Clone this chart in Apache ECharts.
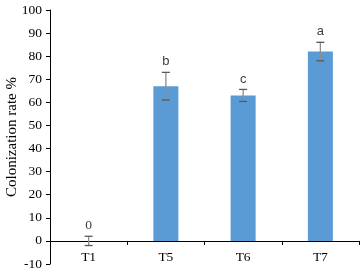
<!DOCTYPE html>
<html><head><meta charset="utf-8">
<script src="https://cdn.jsdelivr.net/npm/echarts@6/dist/echarts.min.js"></script>
<style>html,body{margin:0;padding:0;background:#fff}#c{width:360px;height:274px}</style>
</head><body><div id="c"></div>
<script>
var categories = ["T1", "T5", "T6", "T7"];
var values = [0, 67, 63, 82];
var errors = [2, 6, 2.6, 4];
var letters = ["0", "b", "c", "a"];
var yTicks = [-10, 100, 10];

var chart = echarts.init(document.getElementById('c'));
var serif = '"Liberation Serif", "DejaVu Serif", serif';
var plotH = 274 - 10 - 10;
var zeroOffset = plotH * (0 - yTicks[0]) / (yTicks[1] - yTicks[0]);
chart.setOption({
  animation: false,
  grid: {left: 50, right: 1, top: 10, bottom: 10, containLabel: false, outerBoundsMode: 'none'},
  xAxis: {
    type: 'category', data: categories,
    offset: -zeroOffset,
    axisLine: {onZero: false, lineStyle: {color: '#000', width: 1}},
    axisTick: {show: true, length: 4, inside: false, lineStyle: {color: '#000'}},
    axisLabel: {color: '#000', fontFamily: serif, fontSize: 13.5, margin: 10},
    splitLine: {show: false}
  },
  yAxis: {
    type: 'value', min: yTicks[0], max: yTicks[1], interval: yTicks[2],
    name: 'Colonization rate %', nameLocation: 'middle', nameGap: 30,
    nameMoveOverlap: false,
    nameTextStyle: {color: '#000', fontFamily: serif, fontSize: 15},
    axisLine: {show: true, lineStyle: {color: '#000'}},
    axisTick: {show: true, length: 4, lineStyle: {color: '#000'}},
    axisLabel: {color: '#000', fontFamily: serif, fontSize: 13.5, margin: 8},
    splitLine: {show: false}
  },
  series: [{
    type: 'bar', data: values, barWidth: 25,
    itemStyle: {color: '#5B9BD5'}
  }, {
    type: 'custom',
    data: values.map(function (v, i) { return [i, v, errors[i]]; }),
    renderItem: function (params, api) {
      var x = api.value(0), v = api.value(1), e = api.value(2);
      var top = api.coord([x, v + e]), bot = api.coord([x, v - e]);
      var cap = 4;
      var st = {stroke: '#595959', lineWidth: 1.3};
      var lbl = letters[params.dataIndex];
      var isNum = /^[0-9]/.test(lbl);
      return {type: 'group', children: [
        {type: 'line', shape: {x1: top[0], y1: top[1], x2: bot[0], y2: bot[1]}, style: {stroke: '#8c8c8c', lineWidth: 1.3}},
        {type: 'line', shape: {x1: top[0] - cap, y1: top[1], x2: top[0] + cap, y2: top[1]}, style: st},
        {type: 'line', shape: {x1: bot[0] - cap, y1: bot[1], x2: bot[0] + cap, y2: bot[1]}, style: st},
        {type: 'text', x: top[0], y: top[1] - 4, style: {
          text: lbl, align: 'center', verticalAlign: 'bottom',
          fill: '#404040',
          font: isNum ? '13.5px ' + serif : '13px "Liberation Sans", Arial, sans-serif'
        }}
      ]};
    },
    z: 5
  }]
});
</script></body></html>
